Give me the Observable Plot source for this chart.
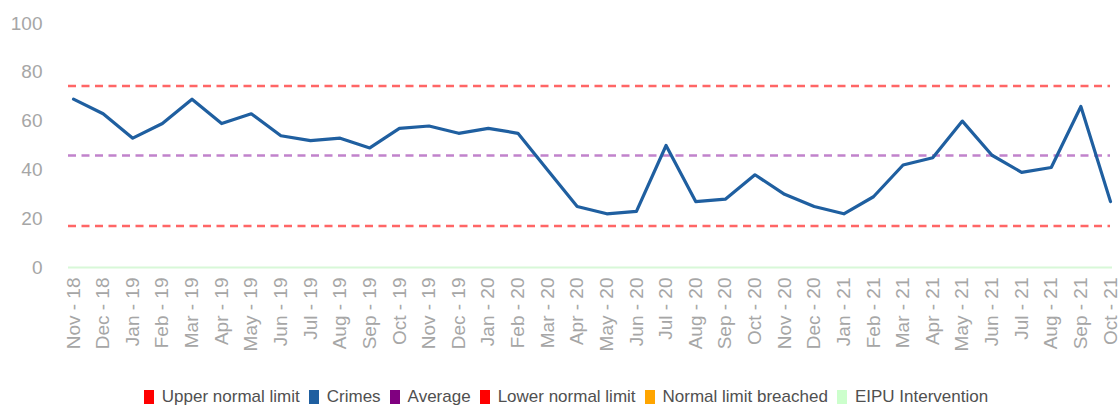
<!DOCTYPE html>
<html>
<head>
<meta charset="utf-8">
<script src="https://cdn.jsdelivr.net/npm/d3@7"></script>
<script src="https://cdn.jsdelivr.net/npm/@observablehq/plot@0.6"></script>
<style>
  html, body { margin: 0; padding: 0; background: #fff; }
  body { width: 1120px; height: 405px; overflow: hidden; font-family: "Liberation Sans", Arial, sans-serif; }
  #chart svg { display: block; }
  #legend { display: flex; justify-content: center; align-items: center; height: 33px; font-size: 17px; color: #505050; margin-left: 12px; }
  #legend .item { display: flex; align-items: center; margin: 0 4.5px; }
  #legend .sw { width: 10px; height: 14px; margin-right: 8px; }
</style>
</head>
<body>
<div id="chart"></div>
<div id="legend"></div>
<script>
const months = ["Nov - 18","Dec - 18","Jan - 19","Feb - 19","Mar - 19","Apr - 19","May - 19","Jun - 19","Jul - 19","Aug - 19","Sep - 19","Oct - 19","Nov - 19","Dec - 19","Jan - 20","Feb - 20","Mar - 20","Apr - 20","May - 20","Jun - 20","Jul - 20","Aug - 20","Sep - 20","Oct - 20","Nov - 20","Dec - 20","Jan - 21","Feb - 21","Mar - 21","Apr - 21","May - 21","Jun - 21","Jul - 21","Aug - 21","Sep - 21","Oct - 21"];
const crimes = [69,63,53,59,69,59,63,54,52,53,49,57,58,55,57,55,40,25,22,23,50,27,28,38,30,25,22,29,42,45,60,46,39,41,66,27];
const upperLimit = 74.4;
const average = 45.9;
const lowerLimit = 17;
const eipu = 0;
const yTicks = [0,20,40,60,80,100];
const legendNames = ["Upper normal limit","Crimes","Average","Lower normal limit","Normal limit breached","EIPU Intervention"];
const legendColors = ["#ff0000","#1f5fa0","#800080","#ff0000","#ffa500","#ccffcc"];

const data = months.map((m, i) => ({month: m, value: crimes[i]}));

const chart = Plot.plot({
  width: 1120,
  height: 380,
  marginTop: 23,
  marginBottom: 113,
  marginLeft: 73,
  marginRight: 10,
  style: {fontFamily: "'Liberation Sans', Arial, sans-serif", background: "#fff"},
  x: {type: "point", domain: months, padding: 0, round: false, range: [73, 1110], label: null},
  y: {domain: [0, 100], label: null},
  marks: [
    Plot.axisY({ticks: yTicks, tickSize: 0, tickPadding: 31, fontSize: 19, fill: "#a6a6a6", label: null}),
    Plot.axisX({tickSize: 0, tickPadding: 10, tickRotate: -90, fontSize: 19, fill: "#a6a6a6", label: null}),
    Plot.ruleY([eipu], {stroke: "#d8f8d8", strokeWidth: 2, insetLeft: -5, insetRight: -2}),
    Plot.ruleY([upperLimit], {stroke: "#ff4040", strokeOpacity: 0.8, strokeWidth: 2.5, strokeDasharray: "8,5.5", insetLeft: -5}),
    Plot.ruleY([lowerLimit], {stroke: "#ff4040", strokeOpacity: 0.8, strokeWidth: 2.5, strokeDasharray: "8,5.5", insetLeft: -5}),
    Plot.ruleY([average], {stroke: "#a040b0", strokeOpacity: 0.65, strokeWidth: 2.5, strokeDasharray: "8,5.5", insetLeft: -5}),
    Plot.line(data, {x: "month", y: "value", stroke: "#1f5fa0", strokeWidth: 3.2})
  ]
});
document.getElementById("chart").appendChild(chart);

const legend = document.getElementById("legend");
legendNames.forEach((n, i) => {
  const it = document.createElement("div");
  it.className = "item";
  const sw = document.createElement("span");
  sw.className = "sw";
  sw.style.background = legendColors[i];
  const t = document.createElement("span");
  t.textContent = n;
  it.appendChild(sw); it.appendChild(t);
  legend.appendChild(it);
});
</script>
</body>
</html>
